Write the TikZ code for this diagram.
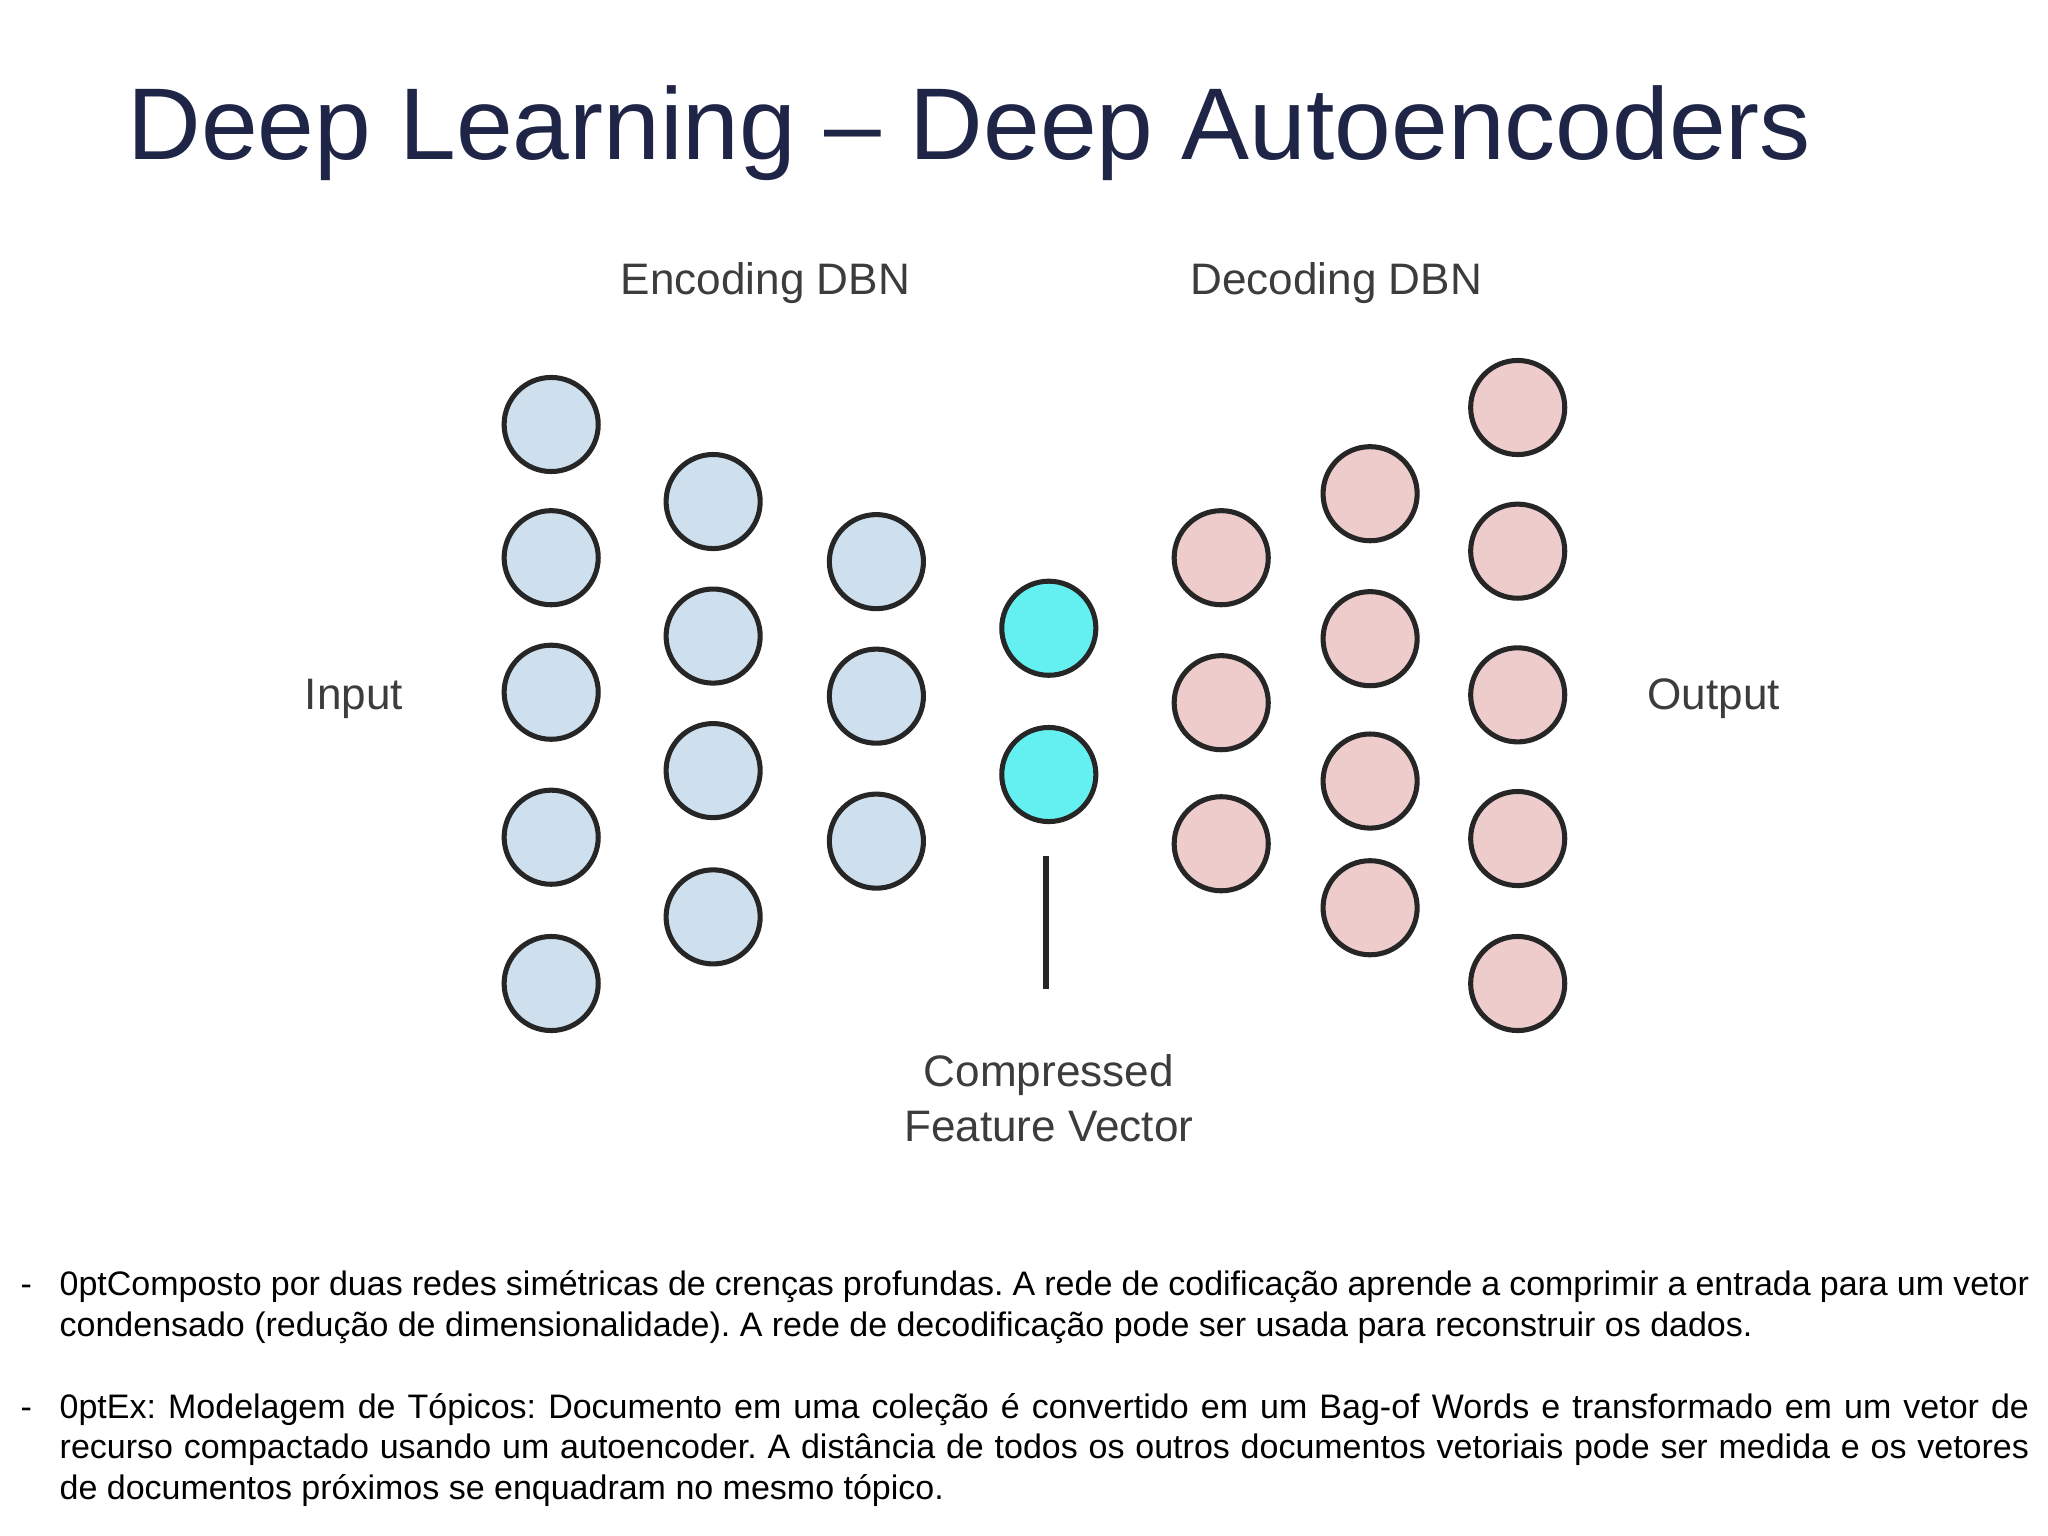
\documentclass[tikz,border=0pt]{standalone}
\usepackage{fontspec}
\setmainfont{Liberation Sans}
\frenchspacing
\begin{document}
\begin{tikzpicture}[x=0.01cm,y=-0.01cm,
  enc/.style={circle,draw=black!85,line width=1.1pt,fill={rgb,255:red,206;green,224;blue,238},minimum size=0.72cm,inner sep=0},
  mid/.style={enc,fill={rgb,255:red,100;green,240;blue,240}},
  dec/.style={enc,fill={rgb,255:red,238;green,204;blue,204}},
  lab/.style={text={rgb,255:red,60;green,60;blue,60},font=\fontsize{9.6}{11.9}\selectfont},
  body/.style={anchor=base west,inner sep=0,text width=15.07cm,align=justify,font=\fontsize{7.4}{8.8}\selectfont\hyphenpenalty=10000\exhyphenpenalty=10000}]
\useasboundingbox (0,0) rectangle (1568,1176);
\node[anchor=base west,inner sep=0,text={rgb,255:red,31;green,37;blue,71},font=\fontsize{22.2}{26}\selectfont] (title) at (97,122) {Deep Learning -- Deep Autoencoders};
\foreach \y [count=\i] in {325,427,530,641,753} \node[enc] (a\i) at (422,\y) {};
\foreach \y [count=\i] in {384,487,590,702} \node[enc] (b\i) at (546,\y) {};
\foreach \y [count=\i] in {430,533,644} \node[enc] (c\i) at (671,\y) {};
\foreach \y [count=\i] in {481,593} \node[mid] (d\i) at (803,\y) {};
\foreach \y [count=\i] in {427,538,646} \node[dec] (e\i) at (935,\y) {};
\foreach \y [count=\i] in {378,489,598,695} \node[dec] (f\i) at (1049,\y) {};
\foreach \y [count=\i] in {312,422,532,642,753} \node[dec] (g\i) at (1162,\y) {};
\coordinate (lt) at (801,655); \coordinate (lb) at (801,757);
\draw[line width=1.3pt,black!85] (lt) -- (lb);
\node[lab] (enc) at (586,217) {Encoding DBN};
\node[lab] (dec) at (1023,217) {Decoding DBN};
\node[lab] (in) at (271,535) {Input};
\node[lab] (out) at (1312,535) {Output};
\node[lab,align=center] (cfv) at (803,841) {Compressed\\Feature Vector};
\node[anchor=base west,inner sep=0,font=\fontsize{7.4}{8.8}\selectfont] (d1) at (15,992) {-};
\node[body] (t1) at (45,992) {Composto por duas redes simétricas de crenças profundas. A rede de codificação aprende a comprimir a entrada para um vetor condensado (redução de dimensionalidade). A rede de decodificação pode ser usada para reconstruir os dados.};
\node[anchor=base west,inner sep=0,font=\fontsize{7.4}{8.8}\selectfont] (d2) at (15,1086) {-};
\node[body] (t2) at (45,1086) {Ex: Modelagem de Tópicos: Documento em uma coleção é convertido em um Bag-of Words e transformado em um vetor de recurso compactado usando um autoencoder. A distância de todos os outros documentos vetoriais pode ser medida e os vetores de documentos próximos se enquadram no mesmo tópico.};
\end{tikzpicture}
\end{document}
